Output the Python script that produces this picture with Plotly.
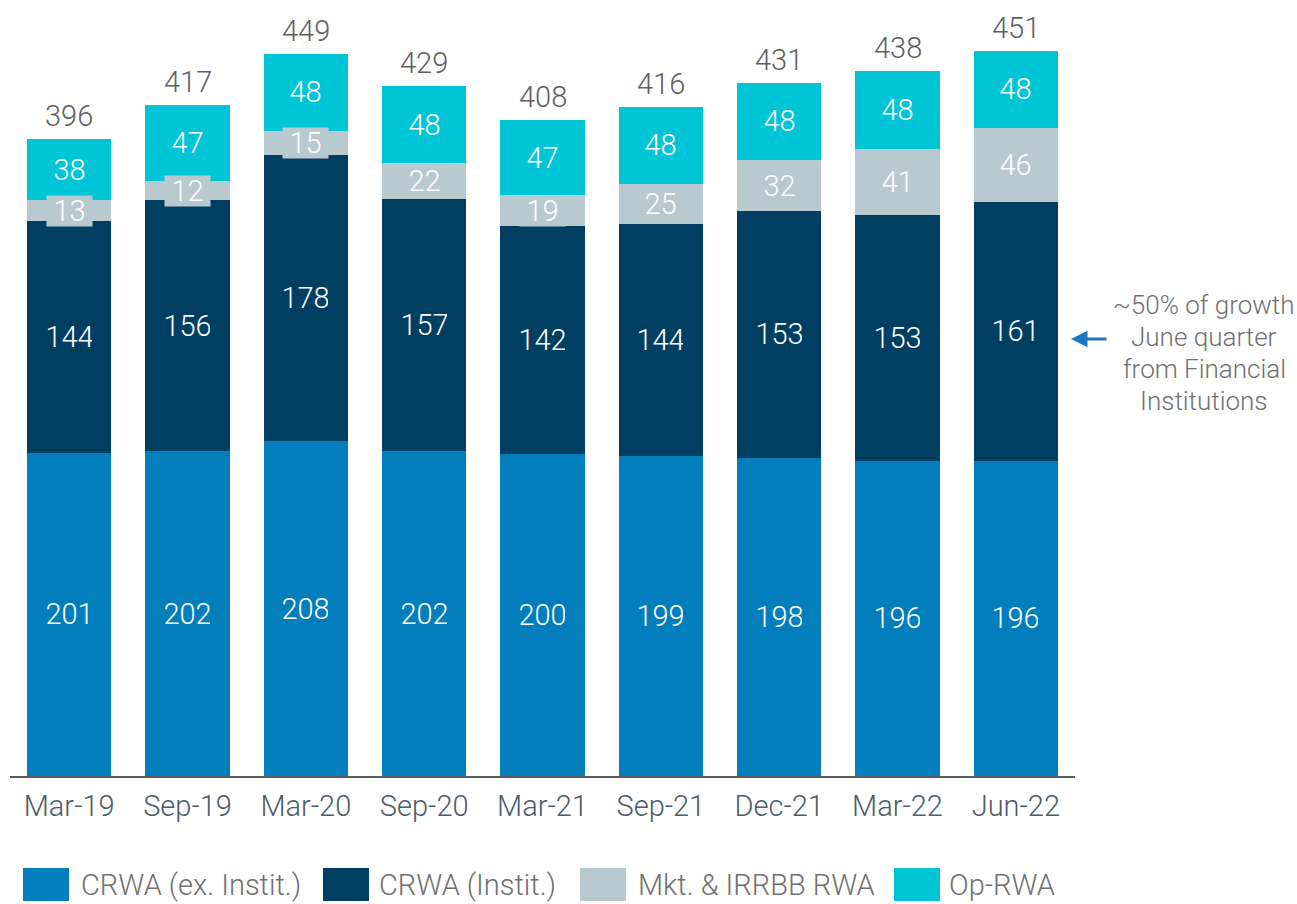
import plotly.graph_objects as go

# Risk-weighted assets by component, $bn
periods = ["Mar-19", "Sep-19", "Mar-20", "Sep-20", "Mar-21", "Sep-21", "Dec-21", "Mar-22", "Jun-22"]
crwa_ex_instit = [201, 202, 208, 202, 200, 199, 198, 196, 196]
crwa_instit = [144, 156, 178, 157, 142, 144, 153, 153, 161]
mkt_irrbb = [13, 12, 15, 22, 19, 25, 32, 41, 46]
op_rwa = [38, 47, 48, 48, 47, 48, 48, 48, 48]

series_names = ["CRWA (ex. Instit.)", "CRWA (Instit.)", "Mkt. & IRRBB RWA", "Op-RWA"]
series_values = [crwa_ex_instit, crwa_instit, mkt_irrbb, op_rwa]
series_colors = ["#027EBD", "#003F62", "#B8C9D0", "#00C5D7"]

FONT = "Roboto"
SIZE = 29

fig = go.Figure()
for name, vals, col in zip(series_names, series_values, series_colors):
    fig.add_trace(go.Bar(
        x=periods, y=vals, name=name, marker_color=col,
        marker_line_width=0, width=0.714, showlegend=False,
        hoverinfo="skip",
    ))

annotations = []
# segment labels, centred in each stacked segment
for i, p in enumerate(periods):
    base = 0
    for vals, col in zip(series_values, series_colors):
        v = vals[i]
        annotations.append(dict(
            x=p, y=base + v / 2, xref="x", yref="y", text=str(v),
            showarrow=False, bgcolor=col, borderpad=0,
            font=dict(family=FONT, size=SIZE, color="white", weight=300),
            height=30, width=45,
        ))
        base += v
    # stack total above each bar
    annotations.append(dict(
        x=p, y=base, xref="x", yref="y", text=str(base),
        showarrow=False, yanchor="bottom", yshift=4,
        font=dict(family=FONT, size=SIZE, color="#606060", weight=300),
    ))

# plot area in pixels, used to place callout and legend items
plot_left, plot_right, plot_top, plot_bottom = 10, 1075, 20, 776
pw, ph = plot_right - plot_left, plot_bottom - plot_top


def px(x):
    return (x - plot_left) / pw


def py(y):
    return (plot_bottom - y) / ph


# callout on the right
callout = ["~50% of growth", "June quarter", "from Financial", "Institutions"]
for k, line in enumerate(callout):
    annotations.append(dict(
        x=px(1204), y=py(305 + 32 * k), xref="paper", yref="paper",
        text=line, showarrow=False, xanchor="center", yanchor="middle",
        font=dict(family=FONT, size=26, color="#707070", weight=300),
    ))

# arrow pointing at the Jun-22 institutional segment
annotations.append(dict(
    x=px(1071), y=py(339), xref="paper", yref="paper",
    ax=37, ay=0, axref="pixel", ayref="pixel",
    showarrow=True, arrowhead=2, arrowsize=1.1, arrowwidth=3,
    arrowcolor="#1A7ABF", text="",
))

# legend drawn as swatches + labels
legend_swatches = [23, 323, 580, 894]
legend_text_x = [79, 377, 636, 947]
shapes = []
for sx, tx, name, col in zip(legend_swatches, legend_text_x, series_names, series_colors):
    shapes.append(dict(
        type="rect", xref="paper", yref="paper",
        x0=px(sx), x1=px(sx + 46), y0=py(901), y1=py(868),
        fillcolor=col, line_width=0,
    ))
    annotations.append(dict(
        x=px(tx), y=py(885), xref="paper", yref="paper",
        text=name, showarrow=False, xanchor="left", yanchor="middle",
        font=dict(family=FONT, size=SIZE, color="#707070", weight=300),
    ))

fig.update_layout(
    barmode="stack",
    width=1297, height=904,
    margin=dict(l=plot_left, r=1297 - plot_right, t=plot_top, b=904 - plot_bottom),
    paper_bgcolor="white", plot_bgcolor="white",
    xaxis=dict(
        range=[-0.5, len(periods) - 0.5], showgrid=False, zeroline=False,
        showline=True, linecolor="#5a5a5a", linewidth=2,
        ticks="", ticklabelstandoff=3,
        tickfont=dict(family=FONT, size=SIZE, color="#4C5B6B", weight=300),
        fixedrange=True,
    ),
    yaxis=dict(range=[0, 470], visible=False, fixedrange=True),
    font=dict(family=FONT),
    annotations=annotations,
    shapes=shapes,
)

fig.write_html("out.html")
